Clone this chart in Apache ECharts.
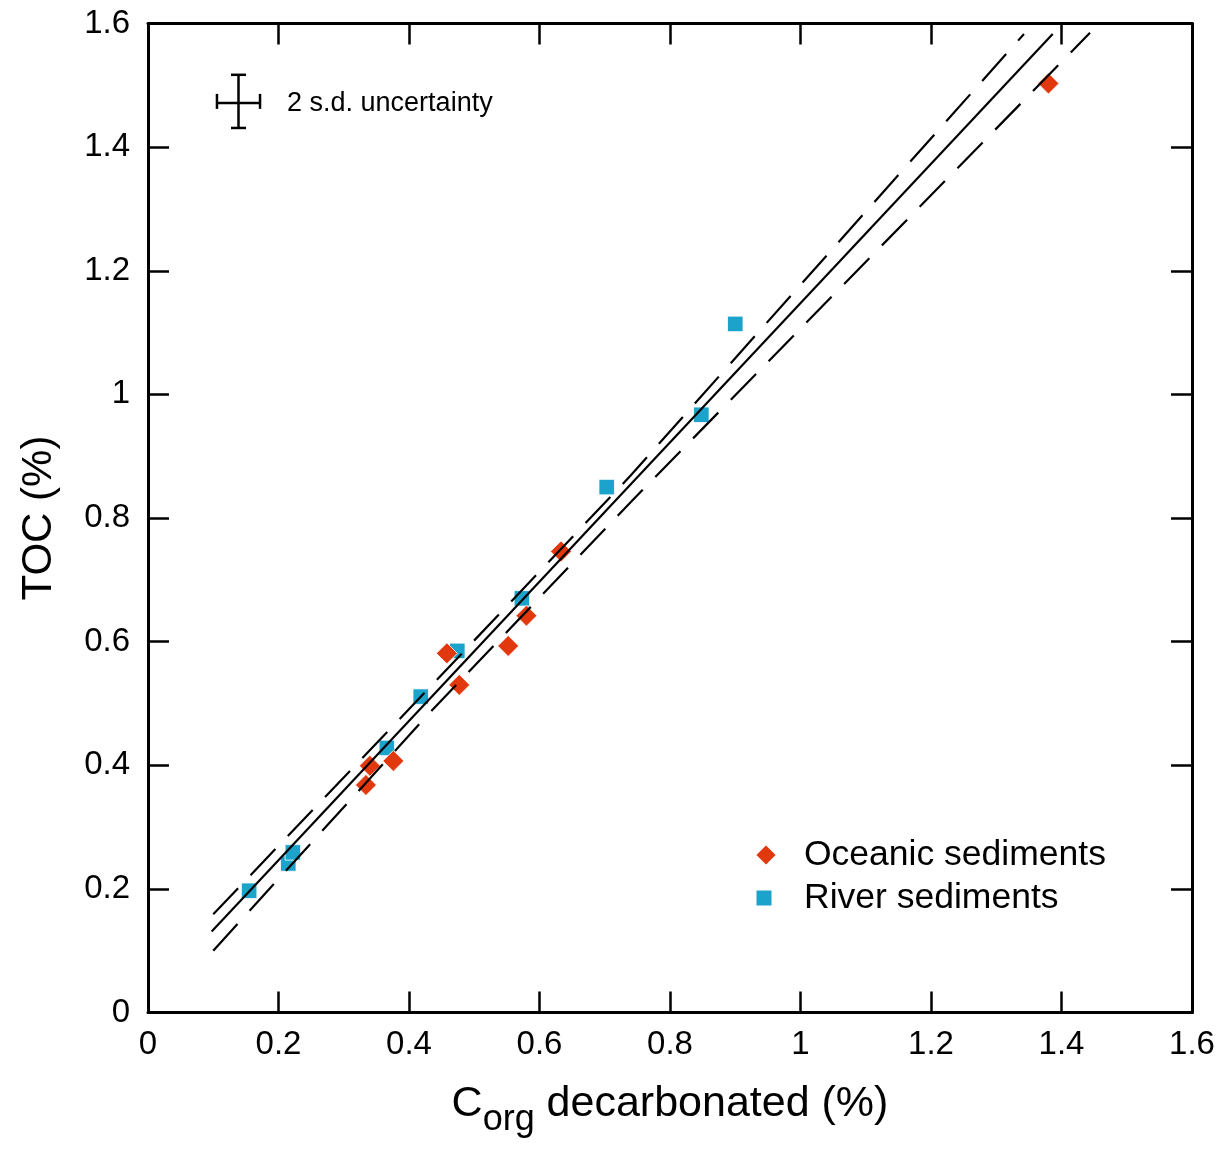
<!DOCTYPE html>
<html>
<head>
<meta charset="utf-8">
<script src="https://cdn.jsdelivr.net/npm/echarts@6/dist/echarts.min.js"></script>
<style>
html,body{margin:0;padding:0;background:#fff;}
#chart{width:1228px;height:1149px;}
</style>
</head>
<body>
<div id="chart"></div>
<script>
// ---- Data ----
const oceanicX = [0.334, 0.340, 0.376, 0.458, 0.477, 0.552, 0.580, 0.633, 1.380];
const oceanicY = [0.368, 0.399, 0.407, 0.581, 0.530, 0.593, 0.642, 0.746, 1.503];

const riverX = [0.155, 0.215, 0.222, 0.366, 0.418, 0.474, 0.573, 0.703, 0.848, 0.900];
const riverY = [0.197, 0.241, 0.259, 0.428, 0.511, 0.585, 0.670, 0.850, 0.967, 1.114];

// regression line and its dashed bands (read at their ends and a few points)
const fitX = [0.0976, 1.3865];
const fitY = [0.131, 1.583];
const upperX = [0.10, 0.43, 0.74, 1.3425];
const upperY = [0.159, 0.524, 0.869, 1.583];
const lowerX = [0.10, 0.43, 0.74, 1.4437];
const lowerY = [0.100, 0.483, 0.826, 1.585];

// 2 s.d. uncertainty glyph: centre and half-widths in data units
const errCenter = [0.1387, 1.474];
const errHalf = [0.033, 0.043];
const errLabel = '2 s.d. uncertainty';

const seriesNames = ['Oceanic sediments', 'River sediments'];
const axisMin = 0, axisMax = 1.6, axisStep = 0.2;

// ---- Styling ----
const FONT = '"Liberation Sans", Arial, Helvetica, sans-serif';
const RED = '#E2380E';
const BLUE = '#1CA3CB';

const zip = (xs, ys) => xs.map((x, i) => [x, ys[i]]);

const chart = echarts.init(document.getElementById('chart'), null, {renderer: 'canvas'});

function axisBase(pos, showLabel) {
  return {
    type: 'value',
    position: pos,
    min: axisMin, max: axisMax, interval: axisStep,
    axisLine: {show: true, onZero: false, lineStyle: {color: '#000', width: 3}},
    axisTick: {show: true, inside: true, length: 21, lineStyle: {color: '#000', width: 2.5}},
    axisLabel: {show: showLabel, fontSize: 33, color: '#000', fontFamily: FONT},
    splitLine: {show: false}
  };
}

const xBottom = Object.assign(axisBase('bottom', true), {
  name: '{a|C}{b|org}{a| decarbonated (%)}',
  nameLocation: 'middle',
  nameGap: 70,
  nameTextStyle: {
    rich: {
      a: {fontSize: 43, fontFamily: FONT, color: '#000', verticalAlign: 'top'},
      b: {fontSize: 36, fontFamily: FONT, color: '#000', verticalAlign: 'top', padding: [20, 0, 0, 0]}
    }
  }
});
xBottom.axisLabel.margin = 16;
const xTop = axisBase('top', false);

const yLeft = Object.assign(axisBase('left', true), {
  name: 'TOC (%)',
  nameLocation: 'middle',
  nameGap: 88,
  nameRotate: 90,
  nameTextStyle: {fontSize: 42, fontFamily: FONT, color: '#000'}
});
yLeft.axisLabel.margin = 18;
const yRight = axisBase('right', false);

const lineCommon = {
  type: 'line', xAxisIndex: 0, yAxisIndex: 0,
  showSymbol: false, symbol: 'none', silent: true,
  animation: false
};

const option = {
  animation: false,
  backgroundColor: '#fff',
  grid: {left: 148, right: 36, top: 23.5, bottom: 136.5, containLabel: false},
  xAxis: [xBottom, xTop],
  yAxis: [yLeft, yRight],
  legend: [
    {
      data: [{name: seriesNames[0], icon: 'diamond'}],
      orient: 'vertical', left: 754, top: 835, padding: 0,
      itemWidth: 22, itemHeight: 22,
      textStyle: {fontSize: 35.5, fontFamily: FONT, color: '#000', lineHeight: 40, padding: [0, 0, 0, 22]},
      selectedMode: false
    },
    {
      data: [{name: seriesNames[1], icon: 'rect'}],
      orient: 'vertical', left: 754.5, top: 878, padding: 0,
      itemWidth: 17, itemHeight: 17,
      textStyle: {fontSize: 35.5, fontFamily: FONT, color: '#000', lineHeight: 40, padding: [0, 0, 0, 26.5]},
      selectedMode: false
    }
  ],
  series: [
    Object.assign({}, lineCommon, {
      name: 'fit', data: zip(fitX, fitY),
      lineStyle: {color: '#000', width: 2.2}
    }),
    Object.assign({}, lineCommon, {
      name: 'upper', data: zip(upperX, upperY),
      lineStyle: {color: '#000', width: 2.2, type: [36, 18]}
    }),
    Object.assign({}, lineCommon, {
      name: 'lower', data: zip(lowerX, lowerY),
      lineStyle: {color: '#000', width: 2.2, type: [36, 18]}
    }),
    {
      type: 'custom', name: 'uncertainty', silent: true,
      xAxisIndex: 0, yAxisIndex: 0,
      data: [[errCenter[0], errCenter[1]]],
      renderItem: function (params, api) {
        const c = api.coord([errCenter[0], errCenter[1]]);
        const l = api.coord([errCenter[0] - errHalf[0], errCenter[1]]);
        const r = api.coord([errCenter[0] + errHalf[0], errCenter[1]]);
        const t = api.coord([errCenter[0], errCenter[1] + errHalf[1]]);
        const b = api.coord([errCenter[0], errCenter[1] - errHalf[1]]);
        const cap = 7.5;
        const st = {stroke: '#000', lineWidth: 2.5};
        const ln = (x1, y1, x2, y2) => ({type: 'line', shape: {x1, y1, x2, y2}, style: st});
        return {
          type: 'group',
          children: [
            ln(l[0], c[1] + 1.5, r[0], c[1] + 1.5),
            ln(c[0], t[1], c[0], b[1]),
            ln(l[0], c[1] - cap, l[0], c[1] + cap),
            ln(r[0], c[1] - cap, r[0], c[1] + cap),
            ln(c[0] - cap, t[1], c[0] + cap, t[1]),
            ln(c[0] - cap, b[1], c[0] + cap, b[1]),
            {
              type: 'text',
              style: {
                text: errLabel, x: r[0] + 27, y: c[1] + 2,
                fill: '#000', fontSize: 27, fontFamily: FONT,
                verticalAlign: 'middle', align: 'left'
              }
            }
          ]
        };
      }
    },
    {
      type: 'scatter', name: seriesNames[1],
      xAxisIndex: 0, yAxisIndex: 0,
      symbol: 'rect', symbolSize: 15.5,
      itemStyle: {color: BLUE, borderColor: '#fff', borderWidth: 0.8, opacity: 1},
      data: zip(riverX, riverY)
    },
    {
      type: 'scatter', name: seriesNames[0],
      xAxisIndex: 0, yAxisIndex: 0,
      symbol: 'diamond', symbolSize: 21,
      itemStyle: {color: RED, borderColor: '#fff', borderWidth: 0.8, opacity: 1},
      data: zip(oceanicX, oceanicY)
    }
  ]
};

chart.setOption(option);
</script>
</body>
</html>
